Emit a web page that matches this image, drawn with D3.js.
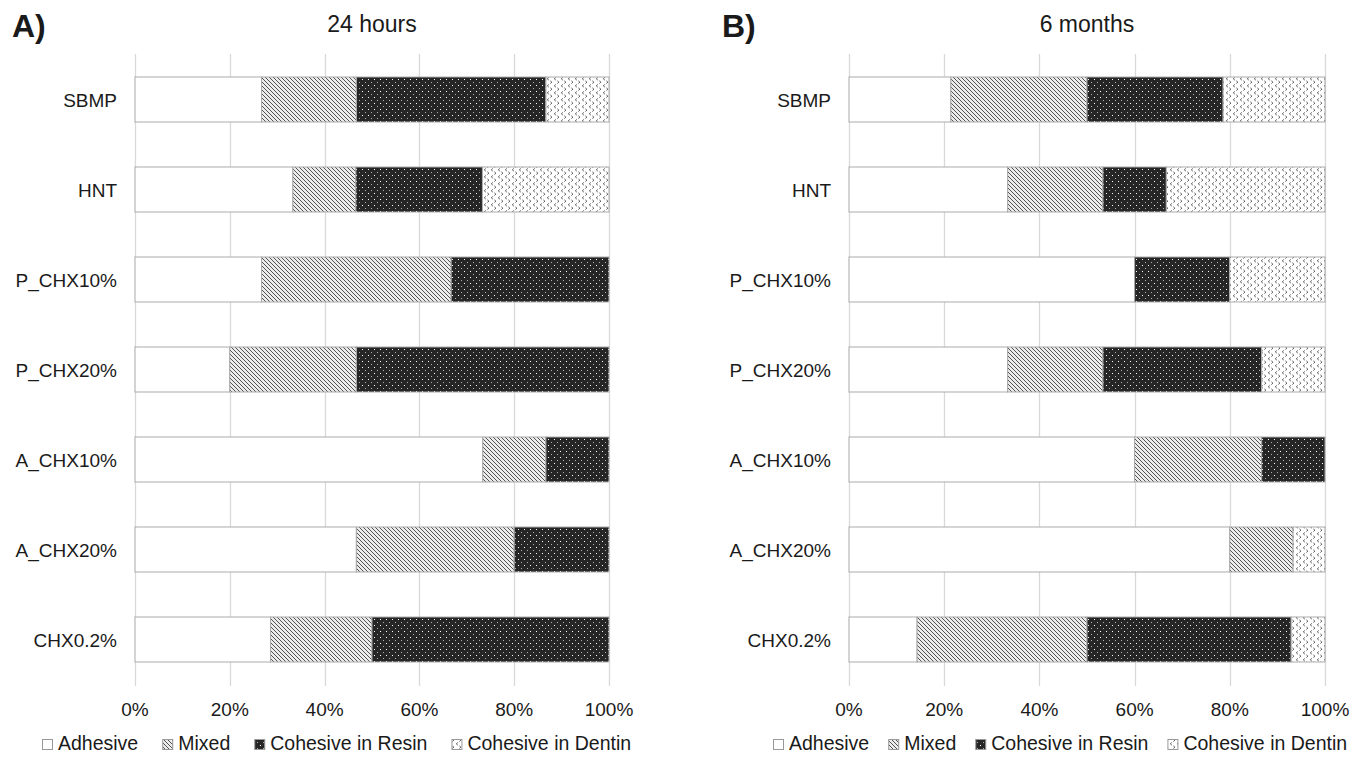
<!DOCTYPE html>
<html>
<head>
<meta charset="utf-8">
<script src="https://cdn.jsdelivr.net/npm/d3@7"></script>
<style>
  body { margin: 0; background: #fff; }
  text { font-family: "Liberation Sans", Arial, sans-serif; fill: #1a1a1a; }
</style>
</head>
<body>
<div id="chart"></div>
<script>

// groups, top to bottom
var categories = ['SBMP', 'HNT', 'P_CHX10%', 'P_CHX20%', 'A_CHX10%', 'A_CHX20%', 'CHX0.2%'];
var failureModes = ['Adhesive', 'Mixed', 'Cohesive in Resin', 'Cohesive in Dentin'];
var tickValues = [0, 0.2, 0.4, 0.6, 0.8, 1];

// percentages, per failure mode
var adhesive24h = [26.7, 33.3, 26.7, 20.0, 73.3, 46.7, 28.6];
var mixed24h    = [20.0, 13.3, 40.0, 26.7, 13.3, 33.3, 21.4];
var resin24h    = [40.0, 26.7, 33.3, 53.3, 13.3, 20.0, 50.0];
var dentin24h   = [13.3, 26.7, 0, 0, 0, 0, 0];

var adhesive6m = [21.4, 33.3, 60.0, 33.3, 60.0, 80.0, 14.3];
var mixed6m    = [28.6, 20.0, 0, 20.0, 26.7, 13.3, 35.7];
var resin6m    = [28.6, 13.3, 20.0, 33.3, 13.3, 0, 42.9];
var dentin6m   = [21.4, 33.3, 20.0, 13.3, 0, 6.7, 7.1];

var panels = [
	{ letter: 'A)', title: '24 hours', series: [adhesive24h, mixed24h, resin24h, dentin24h],
	  x0: 135, x1: 609, letterX: 12, legendX: 42, legendGap: 24 },
	{ letter: 'B)', title: '6 months', series: [adhesive6m, mixed6m, resin6m, dentin6m],
	  x0: 849, x1: 1325, letterX: 722, legendX: 773, legendGap: 19 }
];

var fills = ['#ffffff', 'url(#pMixed)', 'url(#pResin)', 'url(#pDentin)'];

var width = 1369, height = 760;
var svg = d3.select('#chart').append('svg')
		.attr('width', width)
		.attr('height', height);

var defs = svg.append('defs');		// fill patterns

var p = defs.append('pattern').attr('id', 'pMixed')
	.attr('patternUnits', 'userSpaceOnUse').attr('width', 4).attr('height', 4);
p.append('rect').attr('width', 4).attr('height', 4).attr('fill', '#ececec');
p.append('path').attr('d', 'M-1,-1L5,5M-1,3L1,5M3,-1L5,1')
	.attr('stroke', '#4a4a4a').attr('stroke-width', 0.95);

p = defs.append('pattern').attr('id', 'pResin')
	.attr('patternUnits', 'userSpaceOnUse').attr('width', 6).attr('height', 6);
p.append('rect').attr('width', 6).attr('height', 6).attr('fill', '#262626');
p.append('rect').attr('x', 2).attr('y', 1).attr('width', 1).attr('height', 1).attr('fill', '#ffffff');
p.append('rect').attr('x', 5).attr('y', 4).attr('width', 1).attr('height', 1).attr('fill', '#b0b0b0');

p = defs.append('pattern').attr('id', 'pDentin')
	.attr('patternUnits', 'userSpaceOnUse').attr('width', 7).attr('height', 7);
p.append('rect').attr('width', 7).attr('height', 7).attr('fill', '#ffffff');
p.append('path').attr('d', 'M2.8,0.5L1.3,1.8L2.8,3.1M4.4,3.9L5.9,5.2L4.4,6.5')
	.attr('fill', 'none').attr('stroke', '#555').attr('stroke-width', 1);

var y = d3.scaleBand()
	.domain(categories)
	.range([54.5, 684.5])
	.paddingInner(0.5)
	.paddingOuter(0.25);

var drawPanel = function(cfg) {

	var x = d3.scaleLinear().domain([0, 1]).range([cfg.x0, cfg.x1]);
	var g = svg.append('g');

	// table for the stack
	var rows = categories.map(function(c, i) {
		var r = { name: c };
		failureModes.forEach(function(m, k) { r[m] = cfg.series[k][i]; });
		return r;
	});
	var stacked = d3.stack()
		.keys(failureModes)
		.offset(d3.stackOffsetExpand)(rows);

	// gridlines
	g.append('g').selectAll('line')
		.data(tickValues)
		.enter().append('line')
			.attr('x1', function(d) { return Math.round(x(d)) + 0.5; })
			.attr('x2', function(d) { return Math.round(x(d)) + 0.5; })
			.attr('y1', 54)
			.attr('y2', 686)
			.attr('stroke', '#d9d9d9')
			.attr('stroke-width', 1.3);

	// bars
	g.append('g').selectAll('g')
		.data(stacked)
		.enter().append('g')
			.attr('fill', function(d, i) { return fills[i]; })
		.selectAll('rect')
		.data(function(d) { return d; })
		.enter().append('rect')
			.filter(function(d) { return d[1] - d[0] > 0; })
			.attr('x', function(d) { return x(d[0]); })
			.attr('y', function(d) { return y(d.data.name); })
			.attr('width', function(d) { return x(d[1]) - x(d[0]); })
			.attr('height', y.bandwidth())
			.attr('stroke', '#ababab')
			.attr('stroke-width', 1);

	// category labels
	g.append('g').selectAll('text')
		.data(categories)
		.enter().append('text')
			.attr('x', cfg.x0 - 18)
			.attr('y', function(d) { return y(d) + y.bandwidth() / 2 + 7; })
			.attr('text-anchor', 'end')
			.attr('font-size', 19)
			.text(function(d) { return d; });

	// x axis labels
	g.append('g').selectAll('text')
		.data(tickValues)
		.enter().append('text')
			.attr('x', function(d) { return x(d); })
			.attr('y', 716)
			.attr('text-anchor', 'middle')
			.attr('font-size', 19)
			.text(d3.format('.0%'));

	// titles
	g.append('text')
		.attr('x', (cfg.x0 + cfg.x1) / 2)
		.attr('y', 32)
		.attr('text-anchor', 'middle')
		.attr('font-size', 23)
		.text(cfg.title);
	g.append('text')
		.attr('x', cfg.letterX)
		.attr('y', 37)
		.attr('font-size', 32)
		.attr('font-weight', 'bold')
		.attr('fill', '#000')
		.text(cfg.letter);

	// legend
	var lx = cfg.legendX;
	var leg = g.append('g');
	failureModes.forEach(function(m, i) {
		leg.append('rect')
			.attr('x', lx + 0.5).attr('y', 739.5)
			.attr('width', 10).attr('height', 10)
			.attr('fill', fills[i])
			.attr('stroke', '#999');
		var t = leg.append('text')
			.attr('x', lx + 16)
			.attr('y', 750)
			.attr('font-size', 19.5)
			.text(m);
		lx += 16 + t.node().getComputedTextLength() + cfg.legendGap;
	});
};

panels.forEach(drawPanel);

</script>
</body>
</html>
